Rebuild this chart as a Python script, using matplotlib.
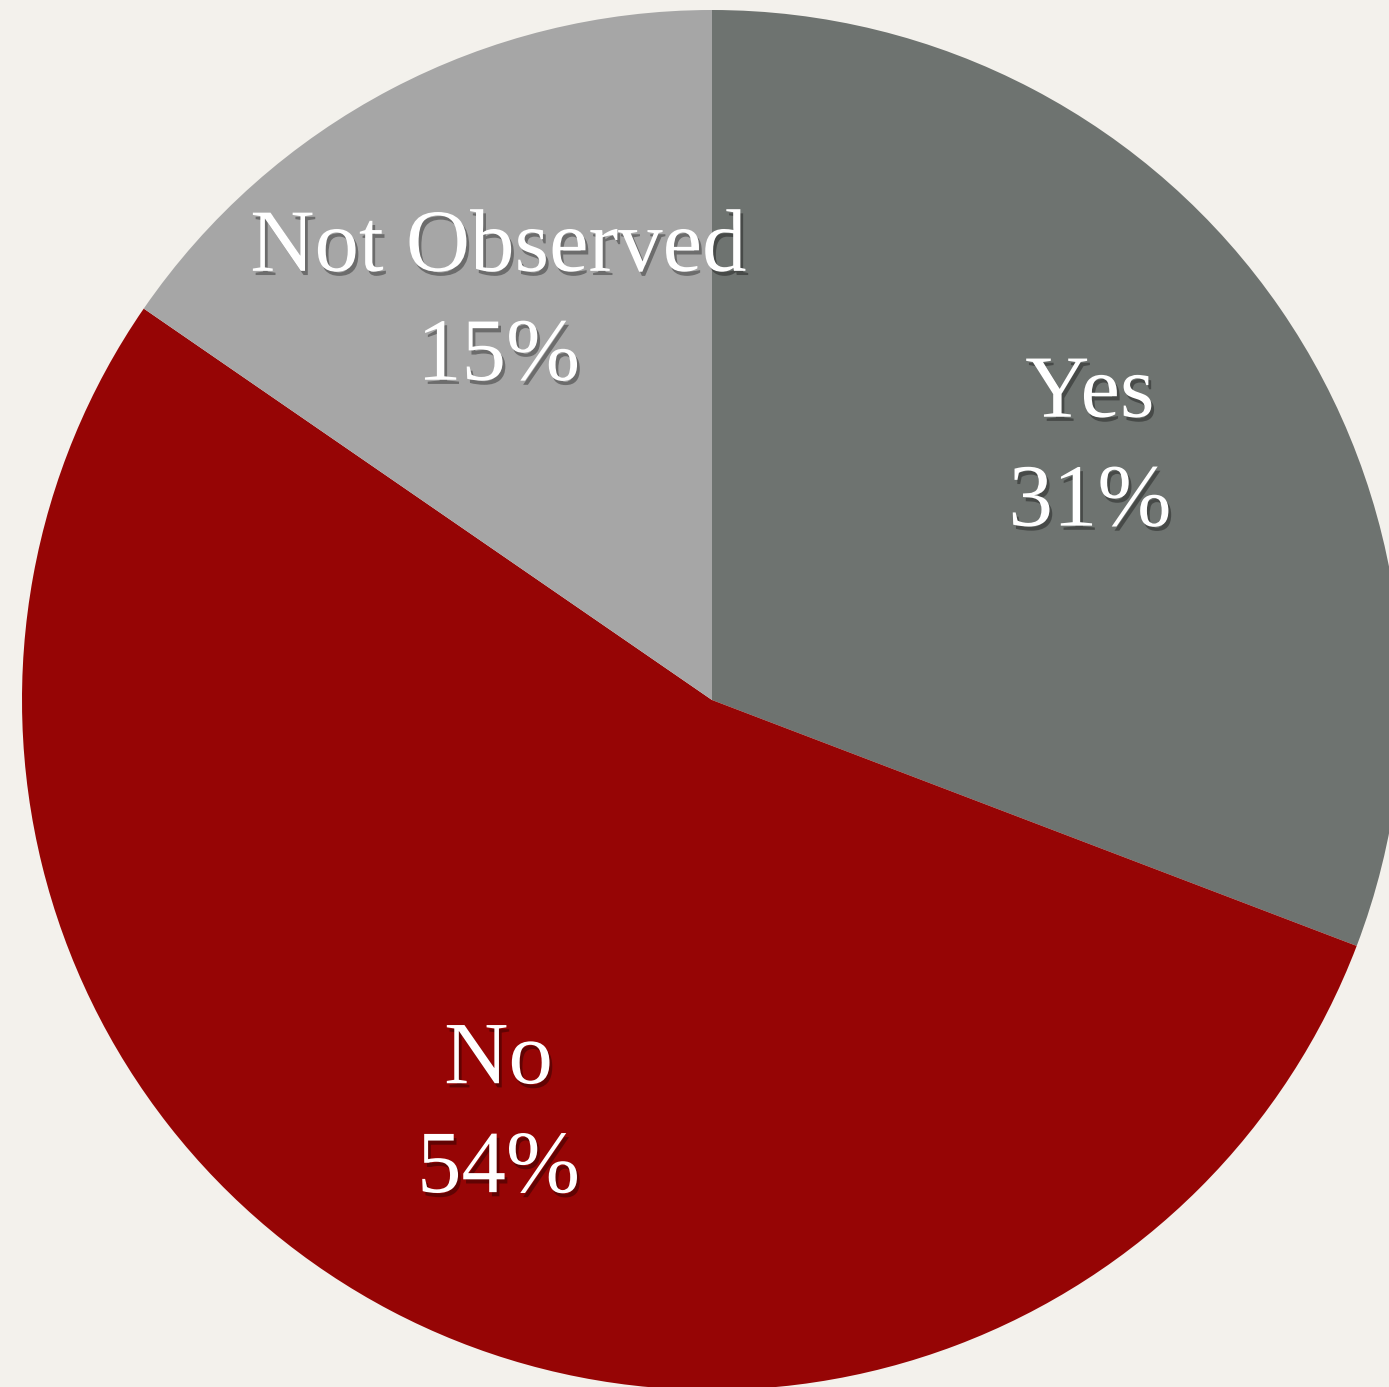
import matplotlib.pyplot as plt
import matplotlib.patheffects as pe
from matplotlib.transforms import offset_copy

categories = ['Yes', 'No', 'Not Observed']
shares = [30.8, 53.8, 15.4]
colors = ['#6e7370', '#960505', '#a6a6a6']

W, H = 1389, 1387
cx, cy, r = 712, 700, 690  # pie centre and radius in pixels

fig = plt.figure(figsize=(W / 100, H / 100), dpi=100)
fig.patch.set_facecolor('#f3f1ec')
ax = fig.add_axes([0, 0, 1, 1])

names = iter(categories)
wedges, texts, autotexts = ax.pie(
    shares, colors=colors, startangle=90, counterclock=False,
    autopct=lambda p: f'{next(names)}\n{p:.0f}%', pctdistance=0.665,
    wedgeprops=dict(linewidth=0),
    textprops=dict(color='white', fontsize=64, family='Liberation Serif',
                   linespacing=1.45))

ax.set_aspect('auto')
ax.set_xlim(-cx / r, (W - cx) / r)
ax.set_ylim(-(H - cy) / r, cy / r)
ax.axis('off')

shadow = [pe.SimplePatchShadow(offset=(2, -3), shadow_rgbFace='black', alpha=0.35),
          pe.Normal()]
# nudge labels down a little
shifted = offset_copy(ax.transData, fig=fig, x=0, y=-10, units='dots')
for t in autotexts:
    t.set_path_effects(shadow)
    t.set_ha('center')
    t.set_va('center')
    t.set_transform(shifted)

fig.savefig('out.png', dpi=100, facecolor=fig.get_facecolor())
